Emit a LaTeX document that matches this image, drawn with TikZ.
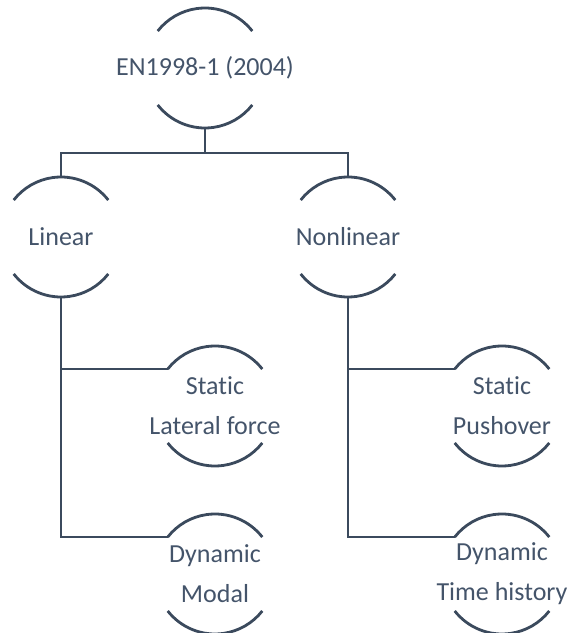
\documentclass[tikz,border=0pt]{standalone}
\usepackage{fontspec}
\setmainfont[Ligatures=NoCommon]{Carlito}
\usetikzlibrary{calc}
\definecolor{txt}{HTML}{44546A}
\definecolor{ln}{HTML}{3B4A5D}
\begin{document}
\begin{tikzpicture}[x=1pt,y=1pt,
  lbl/.style={font=\fontsize{26}{40}\selectfont, text=txt, align=center, inner sep=0pt},
  conn/.style={draw=ln, line width=2.8pt},
  arcs/.style={draw=ln, line width=2.8pt}]
\useasboundingbox (0,0) rectangle (570,633);
% centres of the arched nodes
\node[lbl] (top) at (205,565) {EN1998-1 (2004)};
\node[lbl] (lin) at (61,396) {Linear};
\node[lbl] (non) at (348,396) {Nonlinear};
\node[lbl] (sl) at (215,227) {Static\\Lateral force};
\node[lbl] (dm) at (215,59) {Dynamic\\Modal};
\node[lbl] (sp) at (502,227) {Static\\Pushover};
\node[lbl] (dt) at (502,59) {Dynamic\\Time history};
% arcs above and below every node
\foreach \n in {top,lin,non,sl,dm,sp,dt}{
  \draw[arcs] ($(\n.center)+(38:60)$) arc[start angle=38, end angle=142, radius=60];
  \draw[arcs] ($(\n.center)+(218:60)$) arc[start angle=218, end angle=322, radius=60];
  \coordinate (\n-N) at ($(\n.center)+(0,60)$);
  \coordinate (\n-S) at ($(\n.center)+(0,-60)$);
  \coordinate (\n-W) at ($(\n.center)+(142:60)$);
}
\coordinate (bus) at (205,480);
% connectors
\draw[conn] (top-S) -- (bus);
\draw[conn] (lin-N) |- (bus) -| (non-N);
\draw[conn] (lin-S) |- (sl-W);
\draw[conn] (lin-S) |- (dm-W);
\draw[conn] (non-S) |- (sp-W);
\draw[conn] (non-S) |- (dt-W);
\end{tikzpicture}
\end{document}
